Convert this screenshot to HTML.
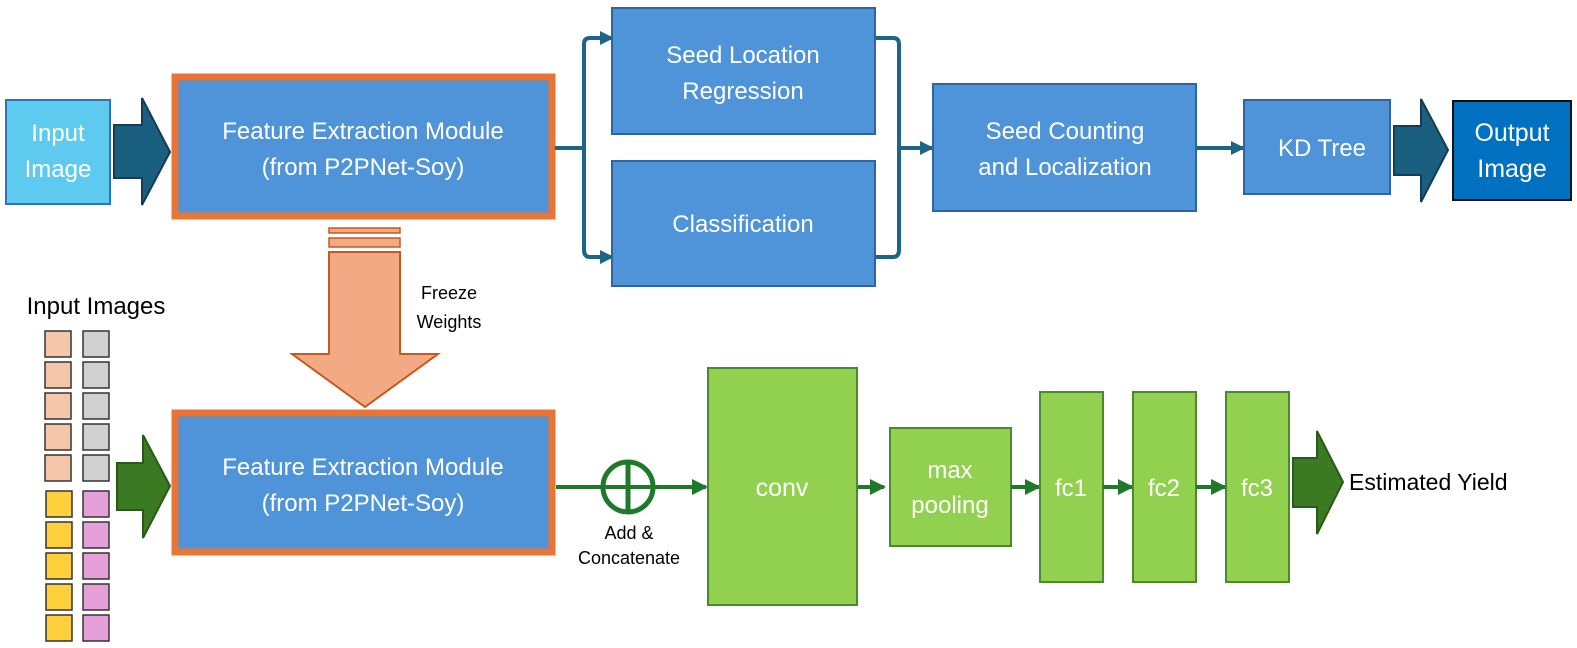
<!DOCTYPE html>
<html><head><meta charset="utf-8"><style>
html,body{margin:0;padding:0;background:#fff;}
svg{display:block;font-family:"Liberation Sans",sans-serif;}
</style></head><body>
<svg width="1577" height="648" viewBox="0 0 1577 648" xmlns="http://www.w3.org/2000/svg">
<defs>
<marker id="ab" markerWidth="14" markerHeight="14" refX="12" refY="7" orient="auto" markerUnits="userSpaceOnUse"><path d="M0,0 L14,7 L0,14 z" fill="#1b6586"/></marker>
<marker id="ag" markerWidth="16" markerHeight="16" refX="14" refY="8" orient="auto" markerUnits="userSpaceOnUse"><path d="M0,0 L16,8 L0,16 z" fill="#1e7a2a"/></marker>
</defs>
<rect x="6" y="100" width="104" height="104" fill="#5fcaf0" stroke="#2e75b6" stroke-width="2"/>
<text x="58" y="141" font-size="24" fill="#fff" text-anchor="middle">Input</text>
<text x="58" y="177" font-size="24" fill="#fff" text-anchor="middle">Image</text>
<path d="M114,125 L142,125 L142,98 L170,152 L142,205 L142,178 L114,178 z" fill="#1a5f80" stroke="#123d52" stroke-width="2"/>
<rect x="175" y="77" width="377" height="139" fill="#4f94d8" stroke="#ea7434" stroke-width="7"/>
<text x="363" y="139" font-size="24" fill="#fff" text-anchor="middle">Feature Extraction Module</text>
<text x="363" y="175" font-size="24" fill="#fff" text-anchor="middle">(from P2PNet-Soy)</text>
<path d="M555,148 L584,148" stroke="#1b6586" stroke-width="4" fill="none"/>
<path d="M612,257 L590,257 Q584,257 584,250 L584,44 Q584,38 590,38 L612,38" stroke="#1b6586" stroke-width="4" fill="none"/>
<path d="M590,38 L612,38" stroke="#1b6586" stroke-width="4" marker-end="url(#ab)"/>
<path d="M590,257 L612,257" stroke="#1b6586" stroke-width="4" marker-end="url(#ab)"/>
<rect x="612" y="8" width="263" height="126" fill="#4f94d8" stroke="#2e65a0" stroke-width="2"/>
<text x="743" y="63" font-size="24" fill="#fff" text-anchor="middle">Seed Location</text>
<text x="743" y="99" font-size="24" fill="#fff" text-anchor="middle">Regression</text>
<rect x="612" y="161" width="263" height="125" fill="#4f94d8" stroke="#2e65a0" stroke-width="2"/>
<text x="743" y="232" font-size="24" fill="#fff" text-anchor="middle">Classification</text>
<path d="M876,38 L893,38 Q899,38 899,44 L899,250 Q899,257 893,257 L876,257" stroke="#1b6586" stroke-width="4" fill="none"/>
<path d="M899,148 L932,148" stroke="#1b6586" stroke-width="4" marker-end="url(#ab)"/>
<rect x="933" y="84" width="263" height="127" fill="#4f94d8" stroke="#2e65a0" stroke-width="2"/>
<text x="1065" y="139" font-size="24" fill="#fff" text-anchor="middle">Seed Counting</text>
<text x="1065" y="175" font-size="24" fill="#fff" text-anchor="middle">and Localization</text>
<path d="M1196,148 L1243,148" stroke="#1b6586" stroke-width="4" marker-end="url(#ab)"/>
<rect x="1244" y="100" width="146" height="94" fill="#4f94d8" stroke="#2e65a0" stroke-width="2"/>
<text x="1322" y="156" font-size="24" fill="#fff" text-anchor="middle">KD Tree</text>
<path d="M1394,126 L1421,126 L1421,99 L1448,150 L1421,202 L1421,175 L1394,175 z" fill="#1a5f80" stroke="#123d52" stroke-width="2"/>
<rect x="1453" y="101" width="118" height="99" fill="#0070c0" stroke="#111" stroke-width="2"/>
<text x="1512" y="141" font-size="25" fill="#fff" text-anchor="middle">Output</text>
<text x="1512" y="177" font-size="25" fill="#fff" text-anchor="middle">Image</text>
<rect x="329" y="228" width="71" height="5" fill="#f2aa84" stroke="#c55a1e" stroke-width="1.5"/>
<rect x="329" y="238" width="71" height="9" fill="#f2aa84" stroke="#c55a1e" stroke-width="1.5"/>
<path d="M329,252 L400,252 L400,354 L438,354 L365,407 L292,354 L329,354 z" fill="#f2aa84" stroke="#c55a1e" stroke-width="2"/>
<text x="449" y="299" font-size="18" fill="#000" text-anchor="middle">Freeze</text>
<text x="449" y="328" font-size="18" fill="#000" text-anchor="middle">Weights</text>
<text x="96" y="314" font-size="24" fill="#000" text-anchor="middle">Input Images</text>
<g stroke="#333" stroke-width="1.5">
<rect x="45" y="331" width="26" height="26" fill="#f6c6aa"/><rect x="83" y="331" width="26" height="26" fill="#d0d0d0"/>
<rect x="45" y="362" width="26" height="26" fill="#f6c6aa"/><rect x="83" y="362" width="26" height="26" fill="#d0d0d0"/>
<rect x="45" y="393" width="26" height="26" fill="#f6c6aa"/><rect x="83" y="393" width="26" height="26" fill="#d0d0d0"/>
<rect x="45" y="424" width="26" height="26" fill="#f6c6aa"/><rect x="83" y="424" width="26" height="26" fill="#d0d0d0"/>
<rect x="45" y="455" width="26" height="26" fill="#f6c6aa"/><rect x="83" y="455" width="26" height="26" fill="#d0d0d0"/>
<rect x="46" y="491" width="26" height="26" fill="#ffd03c"/><rect x="83" y="491" width="26" height="26" fill="#e59fd9"/>
<rect x="46" y="522" width="26" height="26" fill="#ffd03c"/><rect x="83" y="522" width="26" height="26" fill="#e59fd9"/>
<rect x="46" y="553" width="26" height="26" fill="#ffd03c"/><rect x="83" y="553" width="26" height="26" fill="#e59fd9"/>
<rect x="46" y="584" width="26" height="26" fill="#ffd03c"/><rect x="83" y="584" width="26" height="26" fill="#e59fd9"/>
<rect x="46" y="615" width="26" height="26" fill="#ffd03c"/><rect x="83" y="615" width="26" height="26" fill="#e59fd9"/>
</g>
<path d="M117,463 L143,463 L143,435 L170,486 L143,538 L143,510 L117,510 z" fill="#3b7a22" stroke="#2a5a18" stroke-width="2"/>
<rect x="175" y="413" width="377" height="139" fill="#4f94d8" stroke="#ea7434" stroke-width="7"/>
<text x="363" y="475" font-size="24" fill="#fff" text-anchor="middle">Feature Extraction Module</text>
<text x="363" y="511" font-size="24" fill="#fff" text-anchor="middle">(from P2PNet-Soy)</text>
<path d="M556,487 L706,487" stroke="#1e7a2a" stroke-width="4" marker-end="url(#ag)"/>
<circle cx="628" cy="487" r="25" fill="none" stroke="#1e7a2a" stroke-width="5"/>
<path d="M628,462 L628,512" stroke="#1e7a2a" stroke-width="5"/>
<text x="629" y="539" font-size="18" fill="#000" text-anchor="middle">Add &amp;</text>
<text x="629" y="564" font-size="18" fill="#000" text-anchor="middle">Concatenate</text>
<rect x="708" y="368" width="149" height="237" fill="#92d050" stroke="#4a8a2a" stroke-width="2"/>
<text x="782" y="496" font-size="25" fill="#fff" text-anchor="middle">conv</text>
<path d="M858,487 L884,487" stroke="#1e7a2a" stroke-width="4" marker-end="url(#ag)"/>
<rect x="890" y="428" width="121" height="118" fill="#92d050" stroke="#4a8a2a" stroke-width="2"/>
<text x="950" y="478" font-size="24" fill="#fff" text-anchor="middle">max</text>
<text x="950" y="513" font-size="24" fill="#fff" text-anchor="middle">pooling</text>
<path d="M1011,487 L1039,487" stroke="#1e7a2a" stroke-width="4" marker-end="url(#ag)"/>
<rect x="1040" y="392" width="63" height="190" fill="#92d050" stroke="#4a8a2a" stroke-width="2"/>
<text x="1071" y="496" font-size="24" fill="#fff" text-anchor="middle">fc1</text>
<path d="M1103,487 L1132,487" stroke="#1e7a2a" stroke-width="4" marker-end="url(#ag)"/>
<rect x="1133" y="392" width="63" height="190" fill="#92d050" stroke="#4a8a2a" stroke-width="2"/>
<text x="1164" y="496" font-size="24" fill="#fff" text-anchor="middle">fc2</text>
<path d="M1196,487 L1225,487" stroke="#1e7a2a" stroke-width="4" marker-end="url(#ag)"/>
<rect x="1226" y="392" width="63" height="190" fill="#92d050" stroke="#4a8a2a" stroke-width="2"/>
<text x="1257" y="496" font-size="24" fill="#fff" text-anchor="middle">fc3</text>
<path d="M1293,458 L1317,458 L1317,431 L1343,482 L1317,534 L1317,507 L1293,507 z" fill="#3b7a22" stroke="#2a5a18" stroke-width="2"/>
<text x="1349" y="490" font-size="23" fill="#000">Estimated Yield</text>
</svg>
</body></html>
